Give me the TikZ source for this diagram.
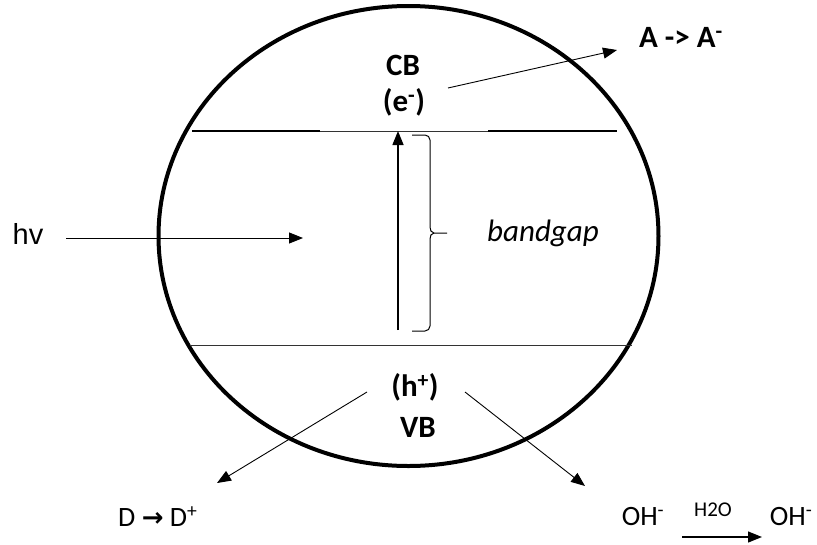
\documentclass[tikz,border=0pt]{standalone}
\usepackage{fontspec}
\setmainfont{Carlito}
\newfontfamily\arialf{Liberation Sans}
\newfontfamily\djv{DejaVu Sans}
\usetikzlibrary{arrows.meta}
\begin{document}
\begin{tikzpicture}[x=1pt,y=-1pt,
  lbl/.style={inner sep=0pt,font=\fontsize{28}{30}\selectfont},
  blbl/.style={inner sep=0pt,font=\fontsize{31}{33}\selectfont\bfseries},
  arr/.style={-{Triangle[length=14pt,width=11pt]},line width=0.9pt},
  thinline/.style={line width=0.8pt,draw=black!80},
  thickline/.style={line width=1.8pt}]
\useasboundingbox (0,0) rectangle (817,544);
% particle
\draw[line width=4pt] (408.5,236) ellipse [x radius=250pt, y radius=230pt];
% conduction band edge
\coordinate (cbL) at (192,131);
\coordinate (cbR) at (617,131);
\draw[thinline] (cbL) -- (cbR);
\draw[thickline] (cbL) -- (320,131);
\draw[thickline] (488,131) -- (cbR);
% valence band edge
\coordinate (vbL) at (190,345);
\coordinate (vbR) at (632,345);
\draw[thinline] (vbL) -- (vbR);
% labels
\node[blbl] (cb) at (403,65) {CB};
\node[blbl] (e) at (404,102) {(e\textsuperscript{-})};
\node[blbl] (hp) at (415,387) {(h\textsuperscript{+})};
\node[blbl] (vb) at (418,427) {VB};
\node[blbl,anchor=west] (A) at (639,37) {A -> A\textsuperscript{-}};
\node[lbl,anchor=west] (D) at (118,517) {D {\djv\bfseries\fontsize{26}{28}\selectfont →} D\textsuperscript{+}};
\node[lbl] (oh1) at (643,517) {OH\textsuperscript{-}};
\node[lbl] (oh2) at (791,517) {OH\textsuperscript{-}};
\node[inner sep=0pt,font=\fontsize{21}{23}\selectfont] (h2o) at (713,510) {H2O};
\node[inner sep=0pt,font=\fontsize{29}{31}\selectfont\arialf] (hv) at (28,234) {hv};
\node[inner sep=0pt,font=\fontsize{31}{33}\selectfont\itshape] (gap) at (543,233) {bandgap};
% electron transfer to acceptor
\coordinate (a0) at (448,88);
\coordinate (a1) at (617,50);
\draw[arr] (a0) -- (a1);
% light
\coordinate (l0) at (66,238);
\coordinate (l1) at (303,238);
\draw[arr] (l0) -- (l1);
% excitation
\coordinate (x0) at (398,330);
\coordinate (x1) at (398,131);
\draw[arr,line width=1.5pt] (x0) -- (x1);
% brace
\coordinate (b0) at (412,135);
\coordinate (b1) at (412,331);
\coordinate (bt) at (447,233);
\draw[line width=1pt] (b0) -- (425,135) to[out=0,in=90] (430,140) -- (430,227)
  to[out=-90,in=180] (434,233) -- (bt);
\draw[line width=1pt] (b1) -- (425,331) to[out=0,in=-90] (430,326) -- (430,239)
  to[out=90,in=180] (434,233);
% holes
\coordinate (d0) at (367,392);
\coordinate (d1) at (217,483);
\draw[arr] (d0) -- (d1);
\coordinate (o0) at (465,392);
\coordinate (o1) at (585,486);
\draw[arr] (o0) -- (o1);
% water arrow
\coordinate (w0) at (682,537);
\coordinate (w1) at (762,537);
\draw[arr,line width=1.2pt] (w0) -- (w1);
\end{tikzpicture}
\end{document}
